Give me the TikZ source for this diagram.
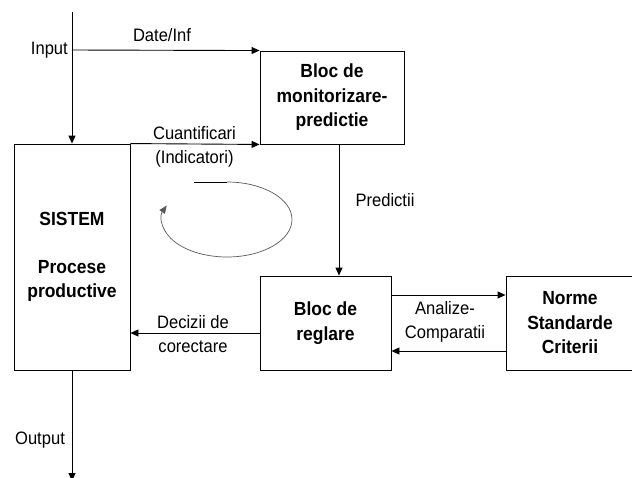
\documentclass[tikz,border=0pt]{standalone}
\usepackage{fontspec}
\setmainfont{Liberation Sans}[FakeStretch=0.92]
\usetikzlibrary{arrows.meta}
\begin{document}
\begin{tikzpicture}[x=1pt,y=-1pt,
  box/.style={draw, line width=0.9pt, rectangle, inner sep=0pt, align=center,
    font=\fontsize{19}{24.5}\selectfont\bfseries},
  lbl/.style={inner sep=0pt, align=center, font=\fontsize{18}{24}\selectfont},
  big/.style={inner sep=0pt, align=center, font=\fontsize{19}{24}\selectfont\bfseries},
  conn/.style={line width=0.9pt, -{Triangle[length=8pt,width=7pt]}},
  loopline/.style={line width=0.7pt, draw=black!65, -{Triangle[length=8pt,width=6.5pt]}}
]
\useasboundingbox (0,0) rectangle (632,477);

% boxes
\node[box, minimum width=116pt, minimum height=226pt] (sistem) at (72,257) {};
\node[box, minimum width=144pt, minimum height=93pt] (mon) at (332,97.5)
  {Bloc de\\monitorizare-\\predictie};
\node[box, minimum width=131pt, minimum height=94pt] (reg) at (325.5,323)
  {Bloc de\\reglare};
\node[box, minimum width=128pt, minimum height=94pt] (norme) at (570,323)
  {Norme\\Standarde\\Criterii};

% text inside SISTEM
\node[big] (t1) at (72,219) {SISTEM};
\node[big] (t2) at (72,281) {Procese\\productive};

% helper coordinates
\coordinate (inTop) at (72,12);
\coordinate (inJ) at (72,50);
\coordinate (px) at (339,0);
\coordinate (ya) at (0,295);
\coordinate (yb) at (0,351);
\coordinate (yd) at (0,333);
\coordinate (outEnd) at (72,481);

% connectors
\draw[conn] (inTop) -- (sistem.north);
\draw[conn] (inJ) -- (mon.north west);
\draw[conn] (sistem.north east) -- (mon.south west);
\draw[conn] (mon.south -| px) -- (reg.north -| px);
\draw[conn] (reg.east |- ya) -- (norme.west |- ya);
\draw[conn] (norme.west |- yb) -- (reg.east |- yb);
\draw[conn] (reg.west |- yd) -- (sistem.east |- yd);
\draw[conn] (sistem.south) -- (outEnd);

% loop
\draw[line width=0.8pt] (194,182) -- (227,182);
\draw[loopline] (227,182)
  arc[start angle=90, end angle=-202, x radius=65pt, y radius=37.5pt];

% labels
\node[lbl, anchor=east] (lin) at (68,50) {Input};
\node[lbl] (ldate) at (162,35) {Date/Inf};
\node[lbl] (lcuant) at (194.5,147) {Cuantificari\\(Indicatori)};
\node[lbl] (lpred) at (385,200) {Predictii};
\node[lbl] (lanal) at (445,321.5) {Analize-\\Comparatii};
\node[lbl] (ldec) at (193,334) {Decizii de\\corectare};
\node[lbl] (lout) at (40,440) {Output};
\end{tikzpicture}
\end{document}
